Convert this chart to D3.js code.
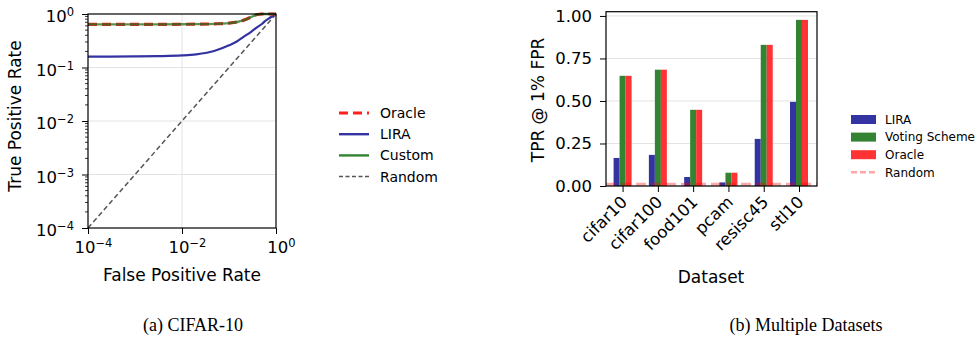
<!DOCTYPE html>
<html><head><meta charset="utf-8">
<script src="https://cdn.jsdelivr.net/npm/d3@7"></script>
<style>
body{margin:0;background:#fff}
svg{display:block}
text{font-family:"DejaVu Sans",sans-serif;fill:#000}
</style>
</head><body>
<svg id="c" width="977" height="339"></svg>
<script>
// ---- Panel (a): ROC curves (log-log) ----
const rocFPR    = [1e-4, 3e-4, 1e-3, 3e-3, 1e-2, 2e-2, 5e-2, 0.1, 0.15, 0.2, 0.3, 0.4, 0.5, 0.6, 0.7, 0.8, 0.9, 1.0];
const oracleTPR = [0.64, 0.64, 0.64, 0.641, 0.643, 0.646, 0.655, 0.675, 0.71, 0.76, 0.88, 0.98, 1.0, 1.0, 1.0, 1.0, 1.0, 1.0];
const customTPR = [0.64, 0.64, 0.64, 0.641, 0.643, 0.646, 0.655, 0.675, 0.71, 0.76, 0.88, 0.98, 1.0, 1.0, 1.0, 1.0, 1.0, 1.0];
const liraTPR   = [0.160, 0.160, 0.161, 0.163, 0.168, 0.176, 0.205, 0.26, 0.31, 0.37, 0.47, 0.57, 0.65, 0.75, 0.82, 0.89, 0.95, 1.0];
const randomFPR = [1e-4, 1];
const randomTPR = [1e-4, 1];
const rocYTicks = [1e-4, 1e-3, 1e-2, 1e-1, 1];
const rocXTicks = [1e-4, 1e-2, 1];
const rocLegend = ["Oracle", "LIRA", "Custom", "Random"];

// ---- Panel (b): TPR @ 1% FPR bars ----
const datasets   = ["cifar10", "cifar100", "food101", "pcam", "resisc45", "stl10"];
const liraVals   = [0.165, 0.183, 0.053, 0.021, 0.277, 0.495];
const votingVals = [0.648, 0.684, 0.448, 0.078, 0.830, 0.977];
const oracleVals = [0.648, 0.684, 0.448, 0.078, 0.830, 0.977];
const randomLevel = 0.01;
const barYTicks  = [0, 0.25, 0.5, 0.75, 1.0];
const barLegend  = ["LIRA", "Voting Scheme", "Oracle", "Random"];

const cBlue = "#3333a2", cGreen = "#338333", cRed = "#ff3333";
const TICK_FS = "16.5px", LABEL_FS = "17px";

const svg = d3.select("#c");

// ================= Panel (a) =================
const ax = d3.scaleLog().domain([1e-4, 1]).range([88, 276]);
const ay = d3.scaleLog().domain([1e-4, 1]).range([228, 14]);
const gA = svg.append("g");

// grid
gA.append("g").selectAll("line").data(rocYTicks.slice(1, -1)).join("line")
  .attr("x1", 88).attr("x2", 276).attr("y1", d => ay(d)).attr("y2", d => ay(d))
  .attr("stroke", "#e3e3e3").attr("stroke-width", 1);
gA.append("g").selectAll("line").data([1e-2]).join("line")
  .attr("y1", 14).attr("y2", 228).attr("x1", d => ax(d)).attr("x2", d => ax(d))
  .attr("stroke", "#e3e3e3").attr("stroke-width", 1);

// minor y ticks
const minor = [];
for (let e = -4; e < 0; e++) for (let m = 2; m <= 9; m++) minor.push(m * Math.pow(10, e));
gA.append("g").selectAll("line").data(minor).join("line")
  .attr("x1", 88).attr("x2", 85).attr("y1", d => ay(d)).attr("y2", d => ay(d))
  .attr("stroke", "#000").attr("stroke-width", 0.8);

const supText = (sel) => {
  sel.each(function(d) {
    const t = d3.select(this);
    const e = Math.round(Math.log10(d));
    t.text(null);
    t.append("tspan").text("10");
    t.append("tspan").attr("dy", "-0.5em").attr("font-size", "11.5px").text(e < 0 ? "\u2212" + (-e) : String(e));
  });
};
const yAxA = gA.append("g").attr("transform", "translate(88,0)")
  .call(d3.axisLeft(ay).tickValues(rocYTicks).tickSize(6).tickPadding(8));
yAxA.select(".domain").remove();
yAxA.selectAll("text").attr("font-size", TICK_FS).attr("font-family", "DejaVu Sans")
  .attr("dy", null).attr("y", 7.5).call(supText);
const xAxA = gA.append("g").attr("transform", "translate(0,228)")
  .call(d3.axisBottom(ax).tickValues(rocXTicks).tickSize(6).tickPadding(4));
xAxA.select(".domain").remove();
xAxA.selectAll("text").attr("font-size", TICK_FS).attr("font-family", "DejaVu Sans")
  .attr("dy", null).attr("y", 25).attr("dx", "0.3em").call(supText);
gA.selectAll(".tick line").attr("stroke-width", 1);

// curves
const lineA = (ys) => d3.line().x((d, i) => ax(rocFPR[i])).y(d => ay(d)).curve(d3.curveMonotoneX)(ys);
gA.append("path").attr("d", d3.line().x((d, i) => ax(randomFPR[i])).y(d => ay(d))(randomTPR))
  .attr("fill", "none").attr("stroke", "#555").attr("stroke-width", 1.5).attr("stroke-dasharray", "5,3");
gA.append("path").attr("d", lineA(liraTPR)).attr("fill", "none").attr("stroke", cBlue).attr("stroke-width", 2.2);
gA.append("path").attr("d", lineA(oracleTPR)).attr("fill", "none").attr("stroke", "#ff2020").attr("stroke-width", 3.2).attr("stroke-dasharray", "9,5");
gA.append("path").attr("d", lineA(customTPR)).attr("fill", "none").attr("stroke", "#1e6e1e").attr("stroke-width", 2.4).attr("opacity", 0.75);

// frame
gA.append("rect").attr("x", 88).attr("y", 14).attr("width", 188).attr("height", 214)
  .attr("fill", "none").attr("stroke", "#000").attr("stroke-width", 1.2);

// labels
gA.append("text").attr("transform", "translate(21,116) rotate(-90)").attr("text-anchor", "middle")
  .attr("font-size", LABEL_FS).text("True Positive Rate");
gA.append("text").attr("x", 182).attr("y", 281).attr("text-anchor", "middle")
  .attr("font-size", LABEL_FS).text("False Positive Rate");

// legend (a)
const legA = gA.append("g");
const legAStyles = [
  {c: "#ff2020", w: 3.2, dash: "9,5"},
  {c: cBlue, w: 2.4, dash: null},
  {c: "#338333", w: 2.4, dash: null},
  {c: "#555", w: 1.5, dash: "4,2.5"}
];
rocLegend.forEach((name, i) => {
  const y = 113 + i * 21.2;
  legA.append("line").attr("x1", 339).attr("x2", 369).attr("y1", y).attr("y2", y)
    .attr("stroke", legAStyles[i].c).attr("stroke-width", legAStyles[i].w)
    .attr("stroke-dasharray", legAStyles[i].dash);
  legA.append("text").attr("x", 380).attr("y", y).attr("dy", "0.36em").attr("font-size", "14px").text(name);
});

// ================= Panel (b) =================
const bx = d3.scaleLinear().domain([-0.47, 5.51]).range([606, 817]);
const by = d3.scaleLinear().domain([0, 1.025]).range([186, 11.7]);
const gB = svg.append("g");
const bw = 0.17;

gB.append("g").selectAll("line").data(barYTicks).join("line")
  .attr("x1", 606).attr("x2", 817).attr("y1", d => by(d)).attr("y2", d => by(d))
  .attr("stroke", "#e3e3e3").attr("stroke-width", 1);

const series = [
  {vals: liraVals, c: cBlue, off: -bw},
  {vals: votingVals, c: cGreen, off: 0},
  {vals: oracleVals, c: cRed, off: bw}
];
series.forEach(s => {
  gB.append("g").selectAll("rect").data(s.vals).join("rect")
    .attr("x", (d, i) => bx(i + s.off - bw / 2))
    .attr("width", bx(bw) - bx(0))
    .attr("y", d => by(d)).attr("height", d => by(0) - by(d))
    .attr("fill", s.c);
});
gB.append("line").attr("x1", bx(-0.47)).attr("x2", bx(5.51)).attr("y1", by(randomLevel)).attr("y2", by(randomLevel))
  .attr("stroke", "#ff0000").attr("stroke-opacity", 0.35).attr("stroke-width", 3).attr("stroke-dasharray", "10,5");

const yAxB = gB.append("g").attr("transform", "translate(606,0)")
  .call(d3.axisLeft(by).tickValues(barYTicks).tickFormat(d3.format(".2f")).tickSize(6).tickPadding(8));
yAxB.select(".domain").remove();
yAxB.selectAll("text").attr("font-size", TICK_FS).attr("font-family", "DejaVu Sans");
const xAxB = gB.append("g").attr("transform", "translate(0,186)")
  .call(d3.axisBottom(bx).tickValues(d3.range(datasets.length)).tickFormat(i => datasets[i]).tickSize(6).tickPadding(3));
xAxB.select(".domain").remove();
xAxB.selectAll("text").attr("font-size", TICK_FS).attr("font-family", "DejaVu Sans")
  .attr("text-anchor", "end").attr("y", 0).attr("dy", "0.35em").attr("transform", "translate(1,13) rotate(-45)");
gB.selectAll(".tick line").attr("stroke-width", 1);

gB.append("rect").attr("x", 606).attr("y", 11.7).attr("width", 211).attr("height", 174.3)
  .attr("fill", "none").attr("stroke", "#000").attr("stroke-width", 1.2);

gB.append("text").attr("transform", "translate(544,100) rotate(-90)").attr("text-anchor", "middle")
  .attr("font-size", LABEL_FS).text("TPR @ 1% FPR");
gB.append("text").attr("x", 711).attr("y", 283).attr("text-anchor", "middle")
  .attr("font-size", LABEL_FS).text("Dataset");

// legend (b)
const legB = gB.append("g");
const legBCols = [cBlue, cGreen, cRed];
barLegend.forEach((name, i) => {
  const y = 119.5 + i * 17.6;
  if (i < 3) {
    legB.append("rect").attr("x", 851).attr("y", y - 4.5).attr("width", 25).attr("height", 9).attr("fill", legBCols[i]);
  } else {
    legB.append("line").attr("x1", 851).attr("x2", 876).attr("y1", y).attr("y2", y)
      .attr("stroke", "#ff0000").attr("stroke-opacity", 0.35).attr("stroke-width", 2.5).attr("stroke-dasharray", "6,3");
  }
  legB.append("text").attr("x", 885).attr("y", y).attr("dy", "0.36em").attr("font-size", "12px").text(name);
});

// captions
svg.append("text").attr("x", 193).attr("y", 331).attr("text-anchor", "middle")
  .style("font-family", "'Liberation Serif', serif").attr("font-size", "18px").text("(a) CIFAR-10");
svg.append("text").attr("x", 806).attr("y", 331).attr("text-anchor", "middle")
  .style("font-family", "'Liberation Serif', serif").attr("font-size", "18px").text("(b) Multiple Datasets");
</script>
</body></html>
